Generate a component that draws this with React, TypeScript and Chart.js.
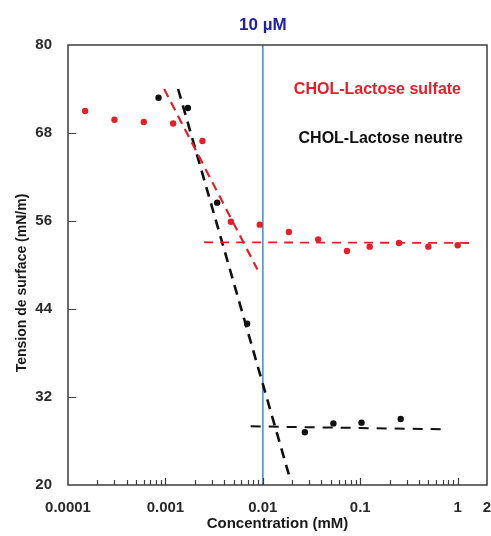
import React, { useEffect, useRef } from "react";
import { Chart, registerables } from "chart.js";

Chart.register(...registerables);

// Data
const concSulfate = [0.00015, 0.0003, 0.0006, 0.0012, 0.0024, 0.0047, 0.0093, 0.0185, 0.037, 0.073, 0.125, 0.25, 0.5, 1.0];
const tensionSulfate = [71.0, 69.8, 69.5, 69.3, 66.9, 55.9, 55.5, 54.5, 53.5, 51.9, 52.5, 53.0, 52.5, 52.7];

const concNeutre = [0.00085, 0.0017, 0.0034, 0.0069, 0.027, 0.053, 0.103, 0.26];
const tensionNeutre = [72.8, 71.4, 58.5, 42.0, 27.2, 28.4, 28.5, 29.0];

// Fitted dashed lines (end points)
const sulfateSlopeX = [0.00097, 0.0088];
const sulfateSlopeY = [74.0, 49.4];
const sulfatePlateauX = [0.0025, 1.5];
const sulfatePlateauY = [53.1, 53.0];
const neutreSlopeX = [0.00135, 0.0186];
const neutreSlopeY = [74.0, 21.3];
const neutrePlateauX = [0.0075, 0.71];
const neutrePlateauY = [28.0, 27.6];

const cmcX = [0.01, 0.01];
const cmcY = [20, 80];

const xTickValues = [0.0001, 0.001, 0.01, 0.1, 1, 2];
const xTickLabels = ["0.0001", "0.001", "0.01", "0.1", "1", "2"];
const yTickValues = [20, 32, 44, 56, 68, 80];

const cmcLabel = "10 µM";
const sulfateLabel = "CHOL-Lactose sulfate";
const neutreLabel = "CHOL-Lactose neutre";
const xTitle = "Concentration (mM)";
const yTitle = "Tension de surface (mN/m)";

const RED = "#e2202a";
const BLACK = "#111111";
const BLUE = "#4b92cc";
const FONT = "'Liberation Sans', Arial, sans-serif";

const zip = (xs: number[], ys: number[]) => xs.map((x, i) => ({ x, y: ys[i] }));

const overlay = {
  id: "overlay",
  afterDraw(chart: any) {
    const { ctx, chartArea, scales } = chart;
    const { left, right, top, bottom } = chartArea;
    const x = scales.x;
    const y = scales.y;
    ctx.save();
    ctx.strokeStyle = "#3c3c3c";
    ctx.lineWidth = 1.5;
    ctx.strokeRect(left, top, right - left, bottom - top);
    ctx.lineWidth = 1.2;
    ctx.beginPath();
    yTickValues.slice(1, -1).forEach((v) => {
      const py = Math.round(y.getPixelForValue(v)) + 0.5;
      ctx.moveTo(left, py);
      ctx.lineTo(left + 8, py);
    });
    // x major & minor ticks (inside)
    for (let e = -4; e <= 0; e++) {
      for (let m = 1; m <= 9; m++) {
        const v = m * Math.pow(10, e);
        if (v <= 0.0001 || v >= 2) continue;
        const px = Math.round(x.getPixelForValue(v)) + 0.5;
        const len = m === 1 ? 7 : 5;
        ctx.moveTo(px, bottom);
        ctx.lineTo(px, bottom - len);
      }
    }
    ctx.stroke();

    // labels
    ctx.textBaseline = "middle";
    ctx.textAlign = "center";
    ctx.fillStyle = "#2020a8";
    ctx.font = `bold 17px ${FONT}`;
    ctx.fillText(cmcLabel, x.getPixelForValue(0.01), 25);

    ctx.textAlign = "right";
    ctx.font = `bold 16px ${FONT}`;
    ctx.fillStyle = RED;
    ctx.fillText(sulfateLabel, 461, 90);
    ctx.fillStyle = BLACK;
    ctx.fillText(neutreLabel, 463, 139);

    // y axis title
    ctx.save();
    ctx.translate(22, 283);
    ctx.rotate(-Math.PI / 2);
    ctx.textAlign = "center";
    ctx.fillStyle = "#1a1a1a";
    ctx.font = `bold 14px ${FONT}`;
    ctx.fillText(yTitle, 0, 0);
    ctx.restore();

    ctx.restore();
  },
};

export default function App() {
  const ref = useRef<HTMLCanvasElement | null>(null);

  useEffect(() => {
    if (!ref.current) return;
    const dash = (data: any[], color: string, width: number, d: number[]) => ({
      type: "line" as const,
      data,
      borderColor: color,
      borderWidth: width,
      borderDash: d,
      pointRadius: 0,
      fill: false,
      showLine: true,
    });
    const chart = new Chart(ref.current, {
      type: "scatter",
      data: {
        datasets: [
          {
            type: "line",
            data: zip(cmcX, cmcY),
            borderColor: BLUE,
            borderWidth: 1.6,
            pointRadius: 0,
            order: 10,
          } as any,
          dash(zip(sulfateSlopeX, sulfateSlopeY), RED, 2.2, [9, 6]),
          dash(zip(sulfatePlateauX, sulfatePlateauY), RED, 1.8, [9, 7]),
          dash(zip(neutreSlopeX, neutreSlopeY), BLACK, 2.6, [10, 7]),
          dash(zip(neutrePlateauX, neutrePlateauY), BLACK, 2, [10, 8]),
          {
            data: zip(concSulfate, tensionSulfate),
            backgroundColor: RED,
            borderColor: RED,
            pointRadius: 3.2,
            borderWidth: 0,
          },
          {
            data: zip(concNeutre, tensionNeutre),
            backgroundColor: BLACK,
            borderColor: BLACK,
            pointRadius: 3.2,
            borderWidth: 0,
          },
        ],
      },
      options: {
        responsive: false,
        animation: false,
        layout: { padding: { left: 0, top: 45, right: 4, bottom: 0 } },
        plugins: { legend: { display: false }, tooltip: { enabled: false } },
        scales: {
          x: {
            type: "logarithmic",
            min: 0.0001,
            max: 2,
            afterBuildTicks: (scale: any) => {
              scale.ticks = xTickValues.map((v) => ({ value: v }));
            },
            afterFit: (scale: any) => {
              scale.height = 51;
              scale.paddingLeft = 0;
              scale.paddingRight = 0;
            },
            grid: { display: false, drawTicks: false },
            border: { display: false },
            ticks: {
              autoSkip: false,
              maxRotation: 0,
              padding: 14,
              color: "#2a2a2a",
              font: { family: FONT, size: 15, weight: "bold" },
              callback: (v: any) => {
                const i = xTickValues.findIndex((t) => Math.abs(t - v) / t < 1e-6);
                return i >= 0 ? xTickLabels[i] : "";
              },
            },
            title: {
              display: true,
              text: xTitle,
              color: "#1a1a1a",
              font: { family: FONT, size: 15, weight: "bold" },
              padding: { top: 0, bottom: 3 },
            },
          },
          y: {
            min: 20,
            max: 80,
            afterBuildTicks: (scale: any) => {
              scale.ticks = yTickValues.map((v) => ({ value: v }));
            },
            afterFit: (scale: any) => {
              scale.width = 68;
              scale.paddingTop = 0;
              scale.paddingBottom = 0;
            },
            grid: { display: false, drawTicks: false },
            border: { display: false },
            ticks: {
              padding: 16,
              color: "#2a2a2a",
              font: { family: FONT, size: 15, weight: "bold" },
            },
            title: { display: false },
          },
        },
      },
      plugins: [overlay],
    } as any);
    return () => chart.destroy();
  }, []);

  return (
    <div style={{ position: "absolute", left: 0, top: 0, width: 491, height: 536, background: "#fff" }}>
      <canvas ref={ref} width={491} height={536} style={{ display: "block" }} />
    </div>
  );
}
